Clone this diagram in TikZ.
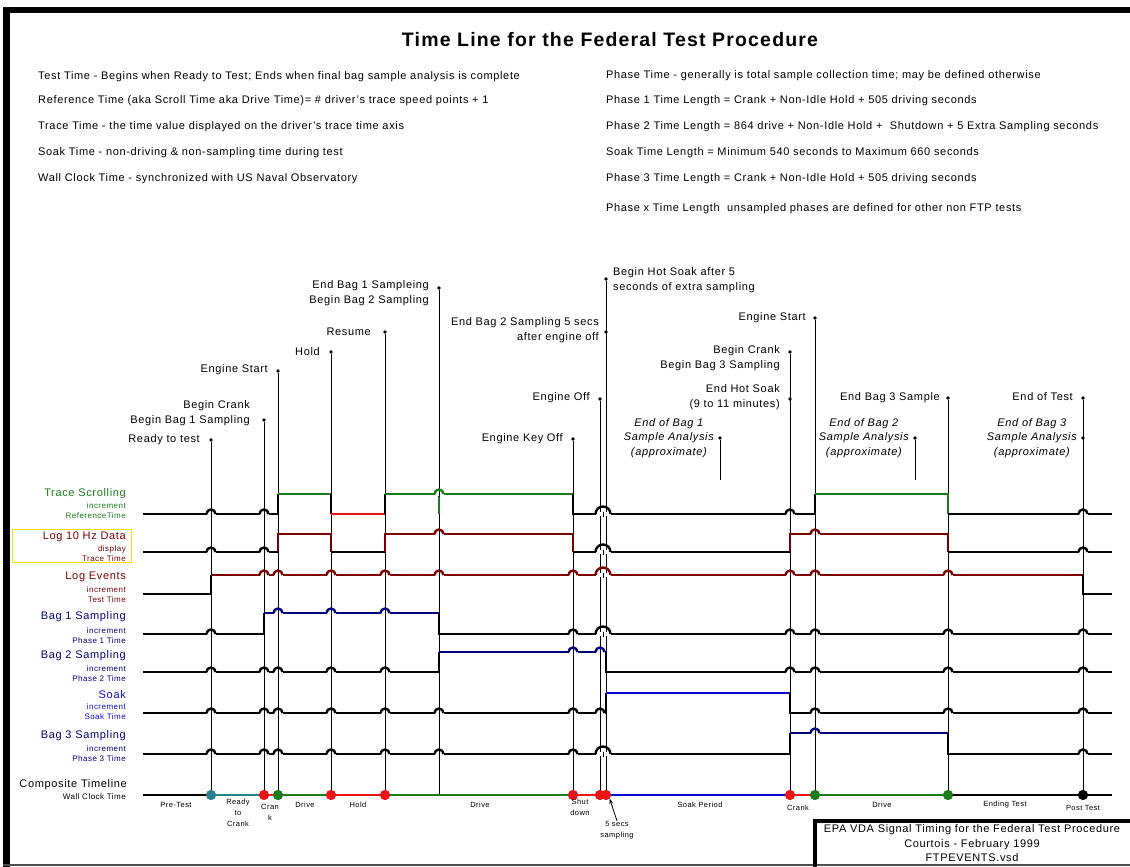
\documentclass[tikz,border=0pt]{standalone}
\usepackage{fontspec}
\setmainfont{Liberation Sans}[LetterSpace=6]
\usetikzlibrary{arrows.meta}

\definecolor{trgreen}{RGB}{25,125,25}
\definecolor{logred}{RGB}{125,0,0}
\definecolor{bagblue}{RGB}{0,0,125}
\definecolor{soakblue}{RGB}{10,10,215}
\definecolor{holdred}{RGB}{235,20,20}
\definecolor{rdyteal}{RGB}{40,130,140}

% small bridge where a signal jumps over an event line
\newcommand{\hump}[4][4.5]{%
  \fill[white] (#2-#1,#3-1.6) rectangle (#2+#1,#3+1.6);
  \draw[line width=0.8pt] (#2,#3-2.5) -- (#2,#3+2.5);
  \draw[line width=2.4pt,#4] (#2-#1,#3) arc (180:360:#1);}

\begin{document}
\begin{tikzpicture}[x=1pt,y=-1pt,
  sig/.style={line width=2.6pt,line cap=square},
  evt/.style={line width=0.8pt},
  evdot/.style={circle,fill,inner sep=0,minimum size=3.6pt},
  cdot/.style={circle,fill,inner sep=0,minimum size=10pt},
  deftext/.style={anchor=west,inner sep=0,font=\fontsize{11}{12}\selectfont},
  evlbl/.style={anchor=east,inner sep=0,align=right,font=\fontsize{11}{15}\selectfont},
  anlbl/.style={anchor=east,inner sep=0,align=center,font=\itshape\fontsize{11}{14.5}\selectfont},
  rowlbl/.style={anchor=east,inner sep=0,font=\fontsize{11}{13}\selectfont},
  sublbl/.style={anchor=east,inner sep=0,align=right,font=\fontsize{8}{10}\selectfont},
  seglbl/.style={inner sep=0,align=center,font=\fontsize{7.5}{11}\selectfont}]
\useasboundingbox (0,0) rectangle (1130,867);

% frame
\fill (3,7) rectangle (10,867);
\fill (3,7) rectangle (1130,13);
\draw[line width=1.5pt,black!70] (3,865) -- (1130,865);

% heading and definitions
\node[font=\bfseries\fontsize{19.5}{22}\selectfont] (title) at (610,40) {Time Line for the Federal Test Procedure};
\node[deftext] (d1) at (38,77) {Test Time - Begins when Ready to Test; Ends when final bag sample analysis is complete};
\node[deftext] (d2) at (38,101) {Reference Time (aka Scroll Time aka Drive Time)= \# driver's trace speed points + 1};
\node[deftext] (d3) at (38,127) {Trace Time - the time value displayed on the driver's trace time axis};
\node[deftext] (d4) at (38,153) {Soak Time - non-driving \& non-sampling time during test};
\node[deftext] (d5) at (38,179) {Wall Clock Time - synchronized with US Naval Observatory};
\node[deftext] (p0) at (606,76) {Phase Time - generally is total sample collection time; may be defined otherwise};
\node[deftext] (p1) at (606,101) {Phase 1 Time Length = Crank + Non-Idle Hold + 505 driving seconds};
\node[deftext] (p2) at (606,127) {Phase 2 Time Length = 864 drive + Non-Idle Hold + \ Shutdown + 5 Extra Sampling seconds};
\node[deftext] (p3) at (606,153) {Soak Time Length = Minimum 540 seconds to Maximum 660 seconds};
\node[deftext] (p4) at (606,179) {Phase 3 Time Length = Crank + Non-Idle Hold + 505 driving seconds};
\node[deftext] (p5) at (606,209) {Phase x Time Length \ unsampled phases are defined for other non FTP tests};

% event markers
\node[evdot] (rdy) at (211,440) {};
\node[evdot] (crk) at (264,420) {};
\node[evdot] (est) at (278,371) {};
\node[evdot] (hld) at (331,352) {};
\node[evdot] (rsm) at (385,332) {};
\node[evdot] (bg2) at (439,288) {};
\node[evdot] (kof) at (573,439) {};
\node[evdot] (eof) at (600,399) {};
\node[evdot] (hsk) at (606,279) {};
\node[evdot] (eb2) at (606,332) {};
\node[evdot] (an1) at (720,438) {};
\node[evdot] (crk3) at (790,352) {};
\node[evdot] (ehs) at (790,399) {};
\node[evdot] (est3) at (815,318) {};
\node[evdot] (an2) at (915,438) {};
\node[evdot] (eb3) at (948,398) {};
\node[evdot] (eot) at (1083,398) {};
\node[evdot] (an3) at (1083,438) {};

\node[evlbl] (rdyL) at (200,440) {Ready to test};
\node[evlbl] (crkL) at (250,413) {Begin Crank\\Begin Bag 1 Sampling};
\node[evlbl] (estL) at (268,370) {Engine Start};
\node[evlbl] (hldL) at (320,352) {Hold};
\node[evlbl] (rsmL) at (371,332) {Resume};
\node[evlbl] (bg2L) at (429,293) {End Bag 1 Sampleing\\Begin Bag 2 Sampling};
\node[evlbl] (kofL) at (563,439) {Engine Key Off};
\node[evlbl] (eofL) at (590,398) {Engine Off};
\node[evlbl] (eb2L) at (599,330) {End Bag 2 Sampling 5 secs\\after engine off};
\node[evlbl,anchor=west,align=left] (hskL) at (613,280) {Begin Hot Soak after 5\\seconds of extra sampling};
\node[anlbl] (an1L) at (714,438) {End of Bag 1\\Sample Analysis\\(approximate)};
\node[evlbl] (crk3L) at (780,358) {Begin Crank\\Begin Bag 3 Sampling};
\node[evlbl] (ehsL) at (780,397) {End Hot Soak\\(9 to 11 minutes)};
\node[evlbl] (est3L) at (806,318) {Engine Start};
\node[anlbl] (an2L) at (909,438) {End of Bag 2\\Sample Analysis\\(approximate)};
\node[evlbl] (eb3L) at (940,398) {End Bag 3 Sample};
\node[evlbl] (eotL) at (1073,397) {End of Test};
\node[anlbl] (an3L) at (1077,438) {End of Bag 3\\Sample Analysis\\(approximate)};

% composite timeline stops
\coordinate (bg2C) at (439,795);
\coordinate (an1C) at (720,480);
\coordinate (an2C) at (915,480);
\node[cdot,rdyteal] (rdyC) at (211,795) {};
\node[cdot,holdred] (crkC) at (264,795) {};
\node[cdot,trgreen] (estC) at (278,795) {};
\node[cdot,holdred] (hldC) at (331,795) {};
\node[cdot,holdred] (rsmC) at (385,795) {};
\node[cdot,holdred] (kofC) at (573,795) {};
\node[cdot,holdred] (eofC) at (600,795) {};
\node[cdot,holdred] (hskC) at (606,795) {};
\node[cdot,holdred] (crk3C) at (790,795) {};
\node[cdot,trgreen] (est3C) at (815,795) {};
\node[cdot,trgreen] (eb3C) at (948,795) {};
\node[cdot] (eotC) at (1083,795) {};

% event lines
\foreach \a/\b in {rdy/rdyC,crk/crkC,est/estC,hld/hldC,rsm/rsmC,bg2/bg2C,kof/kofC,
  eof/eofC,hsk/hskC,an1/an1C,crk3/crk3C,est3/est3C,an2/an2C,eb3/eb3C,eot/eotC}
  \draw[evt] (\a) -- (\b);

% row labels
\foreach \y/\s/\t/\u/\v/\c in {494/511/Trace Scrolling/increment/ReferenceTime/trgreen,
  537/554/Log 10 Hz Data/display/Trace Time/logred,
  577/595/Log Events/increment/Test Time/logred,
  617/635.5/Bag 1 Sampling/increment/Phase 1 Time/bagblue,
  656/673.5/Bag 2 Sampling/increment/Phase 2 Time/bagblue,
  695/712/Soak/increment/Soak Time/soakblue,
  736/753.5/Bag 3 Sampling/increment/Phase 3 Time/bagblue}
{
  \node[rowlbl,\c] at (126,\y) {\t};
  \node[sublbl,\c] at (126,\s) {\u\\\v};
}
\draw[yellow!80!orange,line width=0.6pt] (12,529) rectangle (131,562);
\node[rowlbl] (compL) at (127,785) {Composite Timeline};
\node[sublbl] (wallL) at (126,797) {Wall Clock Time};

% Trace Scrolling
\draw[sig] (143,514) -- (278,514) -- (278,494);
\draw[sig,trgreen] (278,494) -- (331,494);
\draw[sig] (331,494) -- (331,514);
\draw[sig,holdred] (331,514) -- (385,514);
\draw[sig] (385,514) -- (385,494);
\draw[sig,trgreen] (385,494) -- (573,494);
\draw[sig] (573,494) -- (573,514) -- (815,514) -- (815,494);
\draw[sig,trgreen] (815,494) -- (948,494) -- (948,514);
\draw[sig] (948,514) -- (1112,514);
\draw[trgreen,line width=1.6pt] (439,494) -- (439,514);

% Log 10 Hz Data
\draw[sig] (143,552) -- (278,552);
\draw[sig,logred] (278,552) -- (278,534) -- (331,534) -- (331,552);
\draw[sig] (331,552) -- (385,552);
\draw[sig,logred] (385,552) -- (385,534) -- (573,534) -- (573,552);
\draw[sig] (573,552) -- (790,552);
\draw[sig,logred] (790,552) -- (790,534) -- (948,534) -- (948,552);
\draw[sig] (948,552) -- (1112,552);

% Log Events
\draw[sig] (143,594) -- (211,594) -- (211,575);
\draw[sig,logred] (211,575) -- (1083,575);
\draw[sig] (1083,575) -- (1083,594) -- (1112,594);

% Bag 1 Sampling
\draw[sig] (143,634) -- (264,634) -- (264,613);
\draw[sig,bagblue] (264,613) -- (439,613);
\draw[sig] (439,613) -- (439,634) -- (1112,634);

% Bag 2 Sampling
\draw[sig] (143,672) -- (439,672) -- (439,652);
\draw[sig,bagblue] (439,652) -- (606,652);
\draw[sig] (606,652) -- (606,672) -- (1112,672);

% Soak
\draw[sig] (143,713) -- (606,713) -- (606,693);
\draw[sig,soakblue] (606,693) -- (790,693);
\draw[sig] (790,693) -- (790,713) -- (1112,713);

% Bag 3 Sampling
\draw[sig] (143,754) -- (790,754) -- (790,733);
\draw[sig,bagblue] (790,733) -- (948,733);
\draw[sig] (948,733) -- (948,754) -- (1112,754);

% bridges
\foreach \x in {211,264,790,1083} \hump{\x}{514}{black};
\hump[7.5]{603}{514}{black}
\hump{439}{494}{trgreen}
\foreach \x in {211,264,1083} \hump{\x}{552}{black};
\hump[7.5]{603}{552}{black}
\foreach \x in {439,815} \hump{\x}{534}{logred};
\foreach \x in {264,278,331,385,439,573,790,815,948} \hump{\x}{575}{logred};
\hump[7.5]{603}{575}{logred}
\foreach \x in {211,573,790,815,948,1083} \hump{\x}{634}{black};
\hump[7.5]{603}{634}{black}
\foreach \x in {278,331,385} \hump{\x}{613}{bagblue};
\foreach \x in {211,264,278,331,385,790,815,948,1083} \hump{\x}{672}{black};
\foreach \x in {573,600} \hump{\x}{652}{bagblue};
\foreach \x in {211,264,278,331,385,439,573,600,815,948,1083} \hump{\x}{713}{black};
\foreach \x in {211,264,278,331,385,439,573,1083} \hump{\x}{754}{black};
\hump[7.5]{603}{754}{black}
\hump{815}{733}{bagblue}

% composite timeline
\draw[sig] (143,795) -- (211,795);
\draw[sig,rdyteal] (211,795) -- (264,795);
\draw[sig,holdred] (264,795) -- (278,795);
\draw[sig,trgreen] (278,795) -- (331,795);
\draw[sig,holdred] (331,795) -- (385,795);
\draw[sig,trgreen] (385,795) -- (573,795);
\draw[sig,holdred] (573,795) -- (606,795);
\draw[sig,soakblue] (606,795) -- (790,795);
\draw[sig,holdred] (790,795) -- (815,795);
\draw[sig,trgreen] (815,795) -- (948,795);
\draw[sig] (948,795) -- (1112,795);
\foreach \n/\c in {rdyC/rdyteal,crkC/holdred,estC/trgreen,hldC/holdred,rsmC/holdred,
  kofC/holdred,eofC/holdred,hskC/holdred,crk3C/holdred,est3C/trgreen,eb3C/trgreen,eotC/black}
  \fill[\c] (\n) circle (5);

\node[seglbl] (s1) at (176,805) {Pre-Test};
\node[seglbl,anchor=north] (s2) at (238,799) {Ready\\to\\Crank};
\node[seglbl,anchor=north] (s3) at (270,804) {Cran\\k};
\node[seglbl] (s4) at (305,805) {Drive};
\node[seglbl] (s5) at (358,805) {Hold};
\node[seglbl] (s6) at (480,805) {Drive};
\node[seglbl,anchor=north] (s7) at (580,799) {Shut\\down};
\node[seglbl,anchor=north] (s8) at (617,821) {5 secs\\sampling};
\node[seglbl] (s9) at (700,805) {Soak Period};
\node[seglbl] (s10) at (798,808) {Crank};
\node[seglbl] (s11) at (882,805) {Drive};
\node[seglbl] (s12) at (1005,805) {Ending Test};
\node[seglbl] (s13) at (1083,808) {Post Test};
\draw[evt,-{Stealth[length=5pt]}] (s8.north) -- (hskC.south east);

% signature block
\draw[line width=4pt] (815,867) -- (815,821) -- (1130,821);
\node[font=\fontsize{11}{12}\selectfont] (sig1) at (972,830) {EPA VDA Signal Timing for the Federal Test Procedure};
\node[font=\fontsize{11}{12}\selectfont] (sig2) at (972,845) {Courtois - February 1999};
\node[font=\fontsize{11}{12}\selectfont] (sig3) at (972,858) {FTPEVENTS.vsd};
\end{tikzpicture}
\end{document}
